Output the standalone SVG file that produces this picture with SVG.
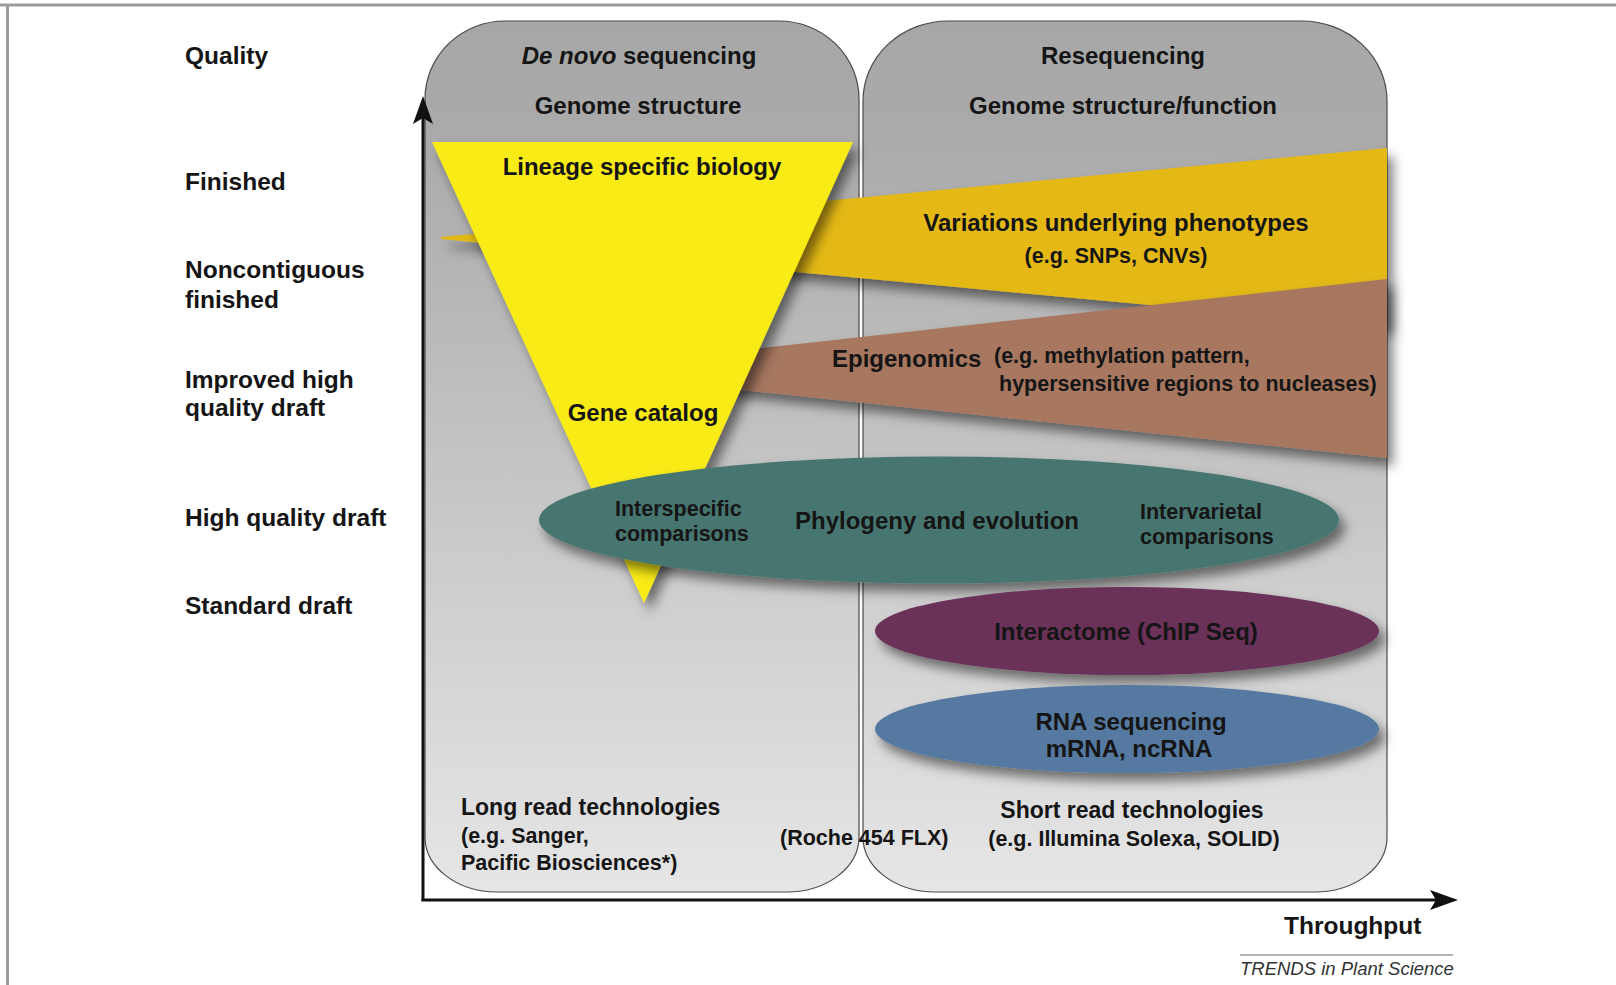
<svg xmlns="http://www.w3.org/2000/svg" width="1616" height="985" viewBox="0 0 1616 985">
  <style>
    .t { font-family: "Liberation Sans", Arial, sans-serif; font-weight: bold; fill: #151515; }
    .lbl { font-size: 24.5px; }
    .m { font-size: 24px; }
    .s { font-size: 21.5px; }
    .mid { text-anchor: middle; }
    .panel { fill: url(#pg); stroke: #4a4a4a; stroke-width: 1.2; }
  </style>
  <defs>
    <linearGradient id="pg" gradientUnits="userSpaceOnUse" x1="0" y1="21" x2="0" y2="892">
      <stop offset="0" stop-color="#a7a7a7"/>
      <stop offset="0.13" stop-color="#aaaaaa"/>
      <stop offset="1" stop-color="#e6e6e6"/>
    </linearGradient>
    <filter id="sh" x="-10%" y="-30%" width="125%" height="170%">
      <feDropShadow dx="6" dy="8" stdDeviation="6" flood-color="#000" flood-opacity="0.5"/>
    </filter>
  </defs>

  <rect x="0" y="0" width="1616" height="985" fill="#ffffff"/>
  <line x1="0" y1="5" x2="1616" y2="5" stroke="#9c9c9c" stroke-width="3"/>
  <line x1="7.5" y1="5" x2="7.5" y2="985" stroke="#9c9c9c" stroke-width="3"/>

  <g id="panel-denovo">
    <path class="panel" d="M 505 21 H 779 A 80 78 0 0 1 859 99 V 837 A 72 55 0 0 1 787 892 H 497 A 72 55 0 0 1 425 837 V 99 A 80 78 0 0 1 505 21 Z"/>
    <text class="t m mid" x="639" y="64"><tspan font-style="italic">De novo</tspan> sequencing</text>
    <text class="t m mid" x="638" y="114">Genome structure</text>
  </g>
  <g id="panel-reseq">
    <path class="panel" d="M 948 21 H 1302 A 85 80 0 0 1 1387 101 V 837 A 72 55 0 0 1 1315 892 H 935 A 72 55 0 0 1 863 837 V 101 A 85 80 0 0 1 948 21 Z"/>
    <text class="t m mid" x="1123" y="64">Resequencing</text>
    <text class="t m mid" x="1123" y="114">Genome structure/function</text>
  </g>

  <g id="variations">
    <polygon points="441,237 1387,148 1387,327 441,239" fill="#e4b915" filter="url(#sh)"/>
    <text class="t m mid" x="1116" y="231">Variations underlying phenotypes</text>
    <text class="t s mid" x="1116" y="263">(e.g. SNPs, CNVs)</text>
  </g>
  <g id="epigenomics">
    <polygon points="600,366 1387,279 1387,458 600,375" fill="#a77760" filter="url(#sh)"/>
    <text class="t m" x="832" y="367">Epigenomics</text>
    <text class="t s" x="994" y="363">(e.g. methylation pattern,</text>
    <text class="t s" x="999" y="391">hypersensitive regions to nucleases)</text>
  </g>
  <g id="triangle">
    <polygon points="432,142 853,142 644,603" fill="#f9eb14" filter="url(#sh)"/>
    <text class="t m mid" x="642" y="175">Lineage specific biology</text>
    <text class="t m mid" x="643" y="421">Gene catalog</text>
  </g>
  <g id="phylogeny">
    <ellipse cx="939" cy="520" rx="400" ry="63.5" fill="#47766f" filter="url(#sh)"/>
    <text class="t s" x="615" y="516">Interspecific</text>
    <text class="t s" x="615" y="541">comparisons</text>
    <text class="t m mid" x="937" y="529">Phylogeny and evolution</text>
    <text class="t s" x="1140" y="519">Intervarietal</text>
    <text class="t s" x="1140" y="544">comparisons</text>
  </g>
  <g id="interactome">
    <ellipse cx="1127" cy="631" rx="252" ry="44" fill="#6a3059" filter="url(#sh)"/>
    <text class="t m mid" x="1126" y="640">Interactome (ChIP Seq)</text>
  </g>
  <g id="rnaseq">
    <ellipse cx="1127" cy="729" rx="252" ry="44" fill="#5579a0" filter="url(#sh)"/>
    <text class="t m mid" x="1131" y="730">RNA sequencing</text>
    <text class="t m mid" x="1129" y="757">mRNA, ncRNA</text>
  </g>

  <g id="tech-labels">
    <text class="t s" style="font-size:23px" x="461" y="815">Long read technologies</text>
    <text class="t s" x="461" y="843">(e.g. Sanger,</text>
    <text class="t s" x="461" y="870">Pacific Biosciences*)</text>
    <text class="t s" x="780" y="845">(Roche 454 FLX)</text>
    <text class="t s mid" style="font-size:23px" x="1132" y="818">Short read technologies</text>
    <text class="t s mid" x="1134" y="846">(e.g. Illumina Solexa, SOLID)</text>
  </g>

  <g id="quality-labels">
    <text class="t lbl" x="185" y="64">Quality</text>
    <text class="t lbl" x="185" y="190">Finished</text>
    <text class="t lbl" x="185" y="278">Noncontiguous</text>
    <text class="t lbl" x="185" y="308">finished</text>
    <text class="t lbl" x="185" y="388">Improved high</text>
    <text class="t lbl" x="185" y="416">quality draft</text>
    <text class="t lbl" x="185" y="526">High quality draft</text>
    <text class="t lbl" x="185" y="614">Standard draft</text>
  </g>

  <g id="axes">
    <line x1="423" y1="901" x2="423" y2="115" stroke="#111" stroke-width="3"/>
    <polygon points="423,96 433,124 423,118 413,124" fill="#111"/>
    <line x1="421.5" y1="900" x2="1440" y2="900" stroke="#111" stroke-width="3"/>
    <polygon points="1458,900 1430,910 1436,900 1430,890" fill="#111"/>
    <text class="t lbl" x="1284" y="934">Throughput</text>
  </g>

  <g id="credit">
    <line x1="1240" y1="955" x2="1453" y2="955" stroke="#9a9a9a" stroke-width="1.5"/>
    <text x="1240" y="975" style="font-family:'Liberation Sans', Arial, sans-serif; font-style:italic; font-size:18.5px; fill:#333">TRENDS in Plant Science</text>
  </g>
</svg>
